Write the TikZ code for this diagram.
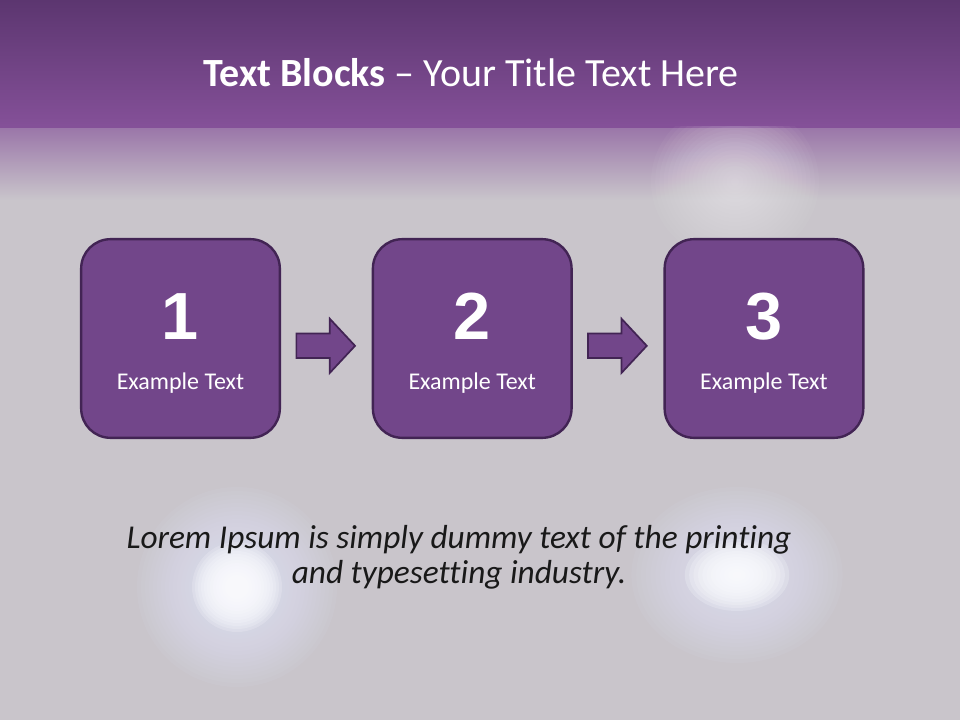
\documentclass[tikz,border=0pt]{standalone}
\usepackage{fontspec}
\setmainfont{Carlito}[Ligatures=NoCommon]
\newfontfamily\digitfont{Liberation Sans}
\usepackage{tikz}
\usetikzlibrary{positioning,calc,shapes.arrows}
\definecolor{plum}{RGB}{114,70,138}
\definecolor{plumdark}{RGB}{66,36,84}
\definecolor{bandtop}{RGB}{92,54,112}
\definecolor{bandlow}{RGB}{132,80,152}
\definecolor{slate}{RGB}{201,197,203}
\definecolor{glow}{RGB}{252,252,255}
\definecolor{halo}{RGB}{228,233,255}

\begin{document}
\begin{tikzpicture}[
    x=0.75pt,y=-0.75pt,
    blk/.style={draw=plumdark,line width=1.8pt,fill=plum,rounded corners=22pt,minimum width=149pt,minimum height=149pt,inner sep=0pt},
    num/.style={text=white,font=\digitfont\bfseries\fontsize{50}{50}\selectfont,inner sep=0pt},
    lbl/.style={text=white,font=\fontsize{18}{21}\selectfont,inner sep=0pt},
    pointer/.style={single arrow,draw=plumdark,line width=1.3pt,fill=plum,minimum height=44pt,minimum width=40.5pt,inner xsep=0pt,inner ysep=5.25pt,single arrow tip angle=94,outer sep=0pt}
]
\useasboundingbox (0,0) rectangle (960,720);
% background
\fill[slate] (0,0) rectangle (960,720);
\shade[top color=bandtop,bottom color=bandlow] (0,0) rectangle (960,126);
\shade[top color=bandlow!70!slate,bottom color=slate] (0,125) rectangle (960,200);
\fill[bandlow] (0,124) rectangle (960,128);
\begin{scope}
\clip (0,127) rectangle (960,300);
\foreach \r in {4,8,...,80} \fill[white,opacity=0.035] (735,182) ellipse ({1.05*\r} and \r);
\end{scope}
% lights
\foreach \r in {4,8,...,100} \fill[halo,opacity=0.06] (237,587) circle (\r);
\foreach \r in {3,6,...,45} \fill[glow,opacity=0.2] (237,587) circle (\r);
\foreach \r in {4,8,...,88} \fill[halo,opacity=0.06] (737,575) ellipse ({1.2*\r} and \r);
\foreach \r in {3,6,...,36} \fill[glow,opacity=0.22] (737,575) ellipse ({1.45*\r} and \r);

\node[anchor=base,text=white,font=\fontsize{30}{34}\selectfont,inner sep=0pt] (title) at (471,87) {\bfseries Text Blocks\mdseries{} -- Your Title Text Here};

% blocks
\node[blk] (b1) at (180.5,338.5) {};
\node[blk,right=68pt of b1] (b2) {};
\node[blk,right=68pt of b2] (b3) {};
\node[num,anchor=base] (n1) at ([yshift=-1pt]b1.center) {1};
\node[num,anchor=base] (n2) at ([yshift=-1pt]b2.center) {2};
\node[num,anchor=base] (n3) at ([yshift=-1pt]b3.center) {3};
\node[lbl,anchor=base] (t1) at ([yshift=-38pt]b1.center) {Example Text};
\node[lbl,anchor=base] (t2) at ([yshift=-38pt]b2.center) {Example Text};
\node[lbl,anchor=base] (t3) at ([yshift=-38pt]b3.center) {Example Text};
\node[pointer,right=11.5pt of b1,yshift=-5.5pt] (a1) {};
\node[pointer,right=11.5pt of b2,yshift=-5.5pt] (a2) {};

\node[align=center,font=\itshape\fontsize{25}{26.5}\selectfont,text=black!90,inner sep=0pt] (note) at (459,557) {Lorem Ipsum is simply dummy text of the printing\\and typesetting industry.};
\end{tikzpicture}
\end{document}
